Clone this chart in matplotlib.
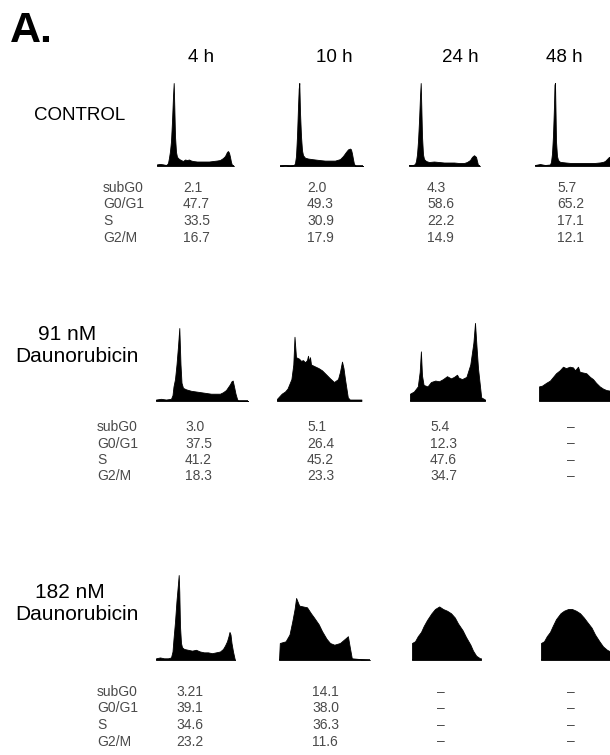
import matplotlib
matplotlib.use('Agg')
import matplotlib.pyplot as plt

# ---------------- data ----------------
time_labels = ['4 h', '10 h', '24 h', '48 h']
phase_labels = ['subG0', 'G0/G1', 'S', 'G2/M']
treatment_labels = [['CONTROL'], ['91 nM', 'Daunorubicin'], ['182 nM', 'Daunorubicin']]

control_values = [['2.1', '2.0', '4.3', '5.7'],
                  ['47.7', '49.3', '58.6', '65.2'],
                  ['33.5', '30.9', '22.2', '17.1'],
                  ['16.7', '17.9', '14.9', '12.1']]
dauno91_values = [['3.0', '5.1', '5.4', '–'],
                  ['37.5', '26.4', '12.3', '–'],
                  ['41.2', '45.2', '47.6', '–'],
                  ['18.3', '23.3', '34.7', '–']]
dauno182_values = [['3.21', '14.1', '–', '–'],
                   ['39.1', '38.0', '–', '–'],
                   ['34.6', '36.3', '–', '–'],
                   ['23.2', '11.6', '–', '–']]

# DNA-content histograms: channel and relative cell count
c4_ch = [0, 3, 6, 9, 10, 11, 12, 13, 14, 15, 16, 16.7, 17.3, 18, 19, 20, 22, 24, 26, 28, 30, 32, 34, 36, 40, 44, 48, 52, 56, 60, 63, 66, 68, 70, 71, 72, 73, 74, 75, 77]
c4_n = [0.02, 0.025, 0.02, 0.012, 0.02, 0.036, 0.1, 0.18, 0.3, 0.54, 0.84, 1.0, 0.72, 0.36, 0.17, 0.11, 0.085, 0.072, 0.06, 0.078, 0.072, 0.078, 0.066, 0.06, 0.054, 0.054, 0.054, 0.054, 0.06, 0.066, 0.072, 0.096, 0.12, 0.17, 0.18, 0.16, 0.11, 0.048, 0.012, 0]
c10_ch = [0, 5, 10, 14, 15, 16, 17, 18, 18.7, 19.3, 20, 21, 22, 23, 25, 28, 32, 36, 40, 45, 50, 55, 60, 63, 66, 68, 70, 71, 72, 73, 74, 76, 83]
c10_n = [0.006, 0.012, 0.006, 0.012, 0.036, 0.12, 0.36, 0.71, 0.93, 1.0, 0.65, 0.36, 0.19, 0.13, 0.1, 0.09, 0.083, 0.077, 0.071, 0.065, 0.065, 0.065, 0.083, 0.12, 0.17, 0.2, 0.21, 0.2, 0.15, 0.083, 0.024, 0, 0]
c24_ch = [0, 4, 6, 7, 8, 9, 10, 11, 11.7, 12.3, 13, 14, 15, 17, 20, 25, 30, 35, 40, 45, 50, 55, 58, 61, 63, 65, 67, 68, 69, 71]
c24_n = [0.012, 0.012, 0.024, 0.06, 0.14, 0.3, 0.54, 0.84, 1.0, 0.72, 0.36, 0.14, 0.084, 0.06, 0.048, 0.054, 0.048, 0.042, 0.042, 0.042, 0.036, 0.036, 0.048, 0.072, 0.11, 0.13, 0.11, 0.06, 0.012, 0]
c48_ch = [0, 5, 10, 15, 16, 17, 18, 19, 19.5, 20, 20.5, 21, 22, 23, 25, 30, 35, 40, 45, 50, 55, 60, 65, 68, 70, 72, 74, 76]
c48_n = [0.012, 0.024, 0.012, 0.018, 0.05, 0.15, 0.37, 0.73, 0.98, 1.0, 0.67, 0.3, 0.12, 0.073, 0.05, 0.043, 0.037, 0.037, 0.037, 0.037, 0.037, 0.037, 0.043, 0.05, 0.06, 0.085, 0.11, 0.11]

n4_ch = [0, 5, 10, 15, 16.5, 17.5, 19, 20.5, 22, 23.3, 24.5, 25.5, 27, 30, 35, 40, 45, 50, 55, 60, 64, 67, 70, 72, 74, 75.5, 76.7, 78, 79.5, 81, 82, 92]
n4_n = [0.02, 0.03, 0.02, 0.03, 0.08, 0.2, 0.3, 0.5, 0.75, 1.0, 0.5, 0.25, 0.18, 0.16, 0.14, 0.13, 0.12, 0.11, 0.1, 0.1, 0.1, 0.12, 0.15, 0.19, 0.23, 0.27, 0.28, 0.2, 0.1, 0.03, 0, 0]
n10_ch = [0, 4.7, 8, 10.5, 14.4, 16.3, 17.5, 19, 22, 24, 26, 28, 30, 31, 32, 33, 34, 37, 41.6, 45, 49.4, 53, 57, 61, 63, 65, 66.5, 68, 70.8, 72.8, 84.4]
n10_n = [0.03, 0.1, 0.13, 0.17, 0.3, 0.5, 0.88, 0.6, 0.58, 0.55, 0.56, 0.53, 0.56, 0.62, 0.54, 0.6, 0.5, 0.48, 0.45, 0.42, 0.36, 0.31, 0.26, 0.3, 0.4, 0.54, 0.45, 0.3, 0.05, 0.02, 0.02]
n24_ch = [0, 3.9, 7.8, 9.7, 10.9, 12, 13.6, 17.5, 21, 25.3, 29, 33, 37, 40.9, 44, 47, 48.6, 52, 56.4, 60.3, 63.4, 65, 66.5, 68, 71.2, 75]
n24_n = [0.1, 0.13, 0.2, 0.4, 0.68, 0.35, 0.22, 0.2, 0.26, 0.28, 0.27, 0.3, 0.34, 0.31, 0.33, 0.36, 0.32, 0.3, 0.33, 0.5, 0.8, 1.07, 0.75, 0.45, 0.05, 0.02]
n48_ch = [0, 3, 7.3, 11, 14, 17, 20.7, 24, 27, 30.7, 34, 36, 39, 40.7, 44, 47.3, 51, 54, 57, 60.7, 64, 67.3, 76]
n48_n = [0.2, 0.21, 0.25, 0.28, 0.33, 0.38, 0.42, 0.47, 0.45, 0.47, 0.46, 0.42, 0.47, 0.4, 0.39, 0.38, 0.33, 0.3, 0.25, 0.2, 0.17, 0.15, 0.13]

h4_ch = [0, 4, 8, 12, 15, 16.5, 17.5, 19, 20.5, 22, 22.7, 23.3, 24, 25, 26, 28, 32, 36, 40, 44, 48, 52, 56, 60, 64, 67, 69, 71, 72.5, 73.5, 74.5, 75.5, 77, 78.5, 79]
h4_n = [0.02, 0.03, 0.02, 0.02, 0.03, 0.1, 0.25, 0.45, 0.7, 0.9, 1.0, 0.8, 0.4, 0.2, 0.15, 0.13, 0.12, 0.11, 0.12, 0.1, 0.09, 0.09, 0.08, 0.09, 0.1, 0.13, 0.17, 0.22, 0.28, 0.33, 0.3, 0.2, 0.1, 0.02, 0]
h10_ch = [0, 0.8, 6.6, 10.5, 13.2, 15.6, 17.1, 20.2, 24, 28, 31.9, 35, 39.7, 43, 47.5, 51, 55.3, 61, 67, 68.9, 70.8, 72.8, 91]
h10_n = [0, 0.2, 0.22, 0.3, 0.45, 0.6, 0.73, 0.64, 0.63, 0.62, 0.55, 0.5, 0.42, 0.34, 0.25, 0.2, 0.18, 0.2, 0.26, 0.28, 0.15, 0.02, 0]
h24_ch = [0, 3, 5.8, 9, 11.7, 15, 19.5, 23, 27.2, 31, 35, 39, 42.8, 46, 50.6, 54, 58.4, 61, 64.2, 68, 69]
h24_n = [0.2, 0.22, 0.28, 0.33, 0.4, 0.47, 0.55, 0.6, 0.63, 0.6, 0.58, 0.55, 0.5, 0.43, 0.35, 0.27, 0.18, 0.11, 0.05, 0.02, 0.02]
h48_ch = [0, 3, 5.8, 9, 11.7, 15, 19.5, 23, 27.2, 31, 35, 39, 42.8, 46, 50.6, 54, 58.4, 62, 66, 69.3, 75]
h48_n = [0.2, 0.22, 0.28, 0.33, 0.4, 0.48, 0.55, 0.58, 0.6, 0.6, 0.58, 0.55, 0.5, 0.45, 0.38, 0.3, 0.22, 0.16, 0.12, 0.1, 0.09]

histograms = [[(c4_ch, c4_n), (c10_ch, c10_n), (c24_ch, c24_n), (c48_ch, c48_n)],
              [(n4_ch, n4_n), (n10_ch, n10_n), (n24_ch, n24_n), (n48_ch, n48_n)],
              [(h4_ch, h4_n), (h10_ch, h10_n), (h24_ch, h24_n), (h48_ch, h48_n)]]
tables = [control_values, dauno91_values, dauno182_values]

# ---------------- layout (pixels) ----------------
W, H = 610, 755
plt.rcParams['font.family'] = ['Liberation Sans', 'DejaVu Sans']
fig = plt.figure(figsize=(W / 100, H / 100), dpi=100)
fig.patch.set_facecolor('white')

canvas = fig.add_axes([0, 0, 1, 1])
canvas.set_xlim(0, W)
canvas.set_ylim(H, 0)
canvas.axis('off')

hist_boxes = [[(157, 77), (280, 83), (409, 71), (535, 80)],
              [(156, 92), (277, 85), (410, 76), (539, 76)],
              [(156, 79), (279, 91), (412, 69), (541, 75)]]
row_base = [166, 401, 660]
row_unit = [83, 73, 85]
label_pos = [[(80, 115)], [(67, 334), (77, 356)], [(70, 593), (77, 615)]]
label_size = [13.5, 15, 15]
table_top = [188, 427, 692]
row_step = 16.5
table_label_x = [103, 97, 97]
value_x = [[183, 307, 427, 557], [185, 307, 430, 557], [176, 312, 427, 557]]

text_color = '#4a4a4a'

canvas.text(10, 31, 'A.', fontsize=31, fontweight='bold', ha='left', va='center', color='black')
for lab, cx in zip(time_labels, [201, 334, 460, 564]):
    canvas.text(cx, 57, lab, fontsize=13.5, ha='center', va='center', color='black')

for r in range(3):
    for lab, (lx, ly) in zip(treatment_labels[r], label_pos[r]):
        canvas.text(lx, ly, lab, fontsize=label_size[r], ha='center', va='center', color='black')
    for c in range(4):
        x0, w = hist_boxes[r][c]
        top = row_unit[r] * 1.12
        ax = fig.add_axes([x0 / W, 1 - row_base[r] / H, w / W, top / H])
        ch, n = histograms[r][c]
        ax.fill_between(ch, 0, n, color='black', lw=0.6, edgecolor='black')
        ax.plot([0, w], [0, 0], color='black', lw=1.2, solid_capstyle='butt')
        ax.set_xlim(0, w)
        ax.set_ylim(0, 1.12)
        ax.axis('off')
    for k, ph in enumerate(phase_labels):
        y = table_top[r] + k * row_step
        canvas.text(table_label_x[r], y, ph, fontsize=10, ha='left', va='center', color=text_color)
        for c in range(4):
            v = tables[r][k][c]
            if v == '–':
                canvas.text(value_x[r][c] + 14, y, v, fontsize=10, ha='center', va='center', color=text_color)
            else:
                canvas.text(value_x[r][c], y, v, fontsize=10, ha='left', va='center', color=text_color)

fig.savefig('out.png', dpi=100, facecolor='white')
